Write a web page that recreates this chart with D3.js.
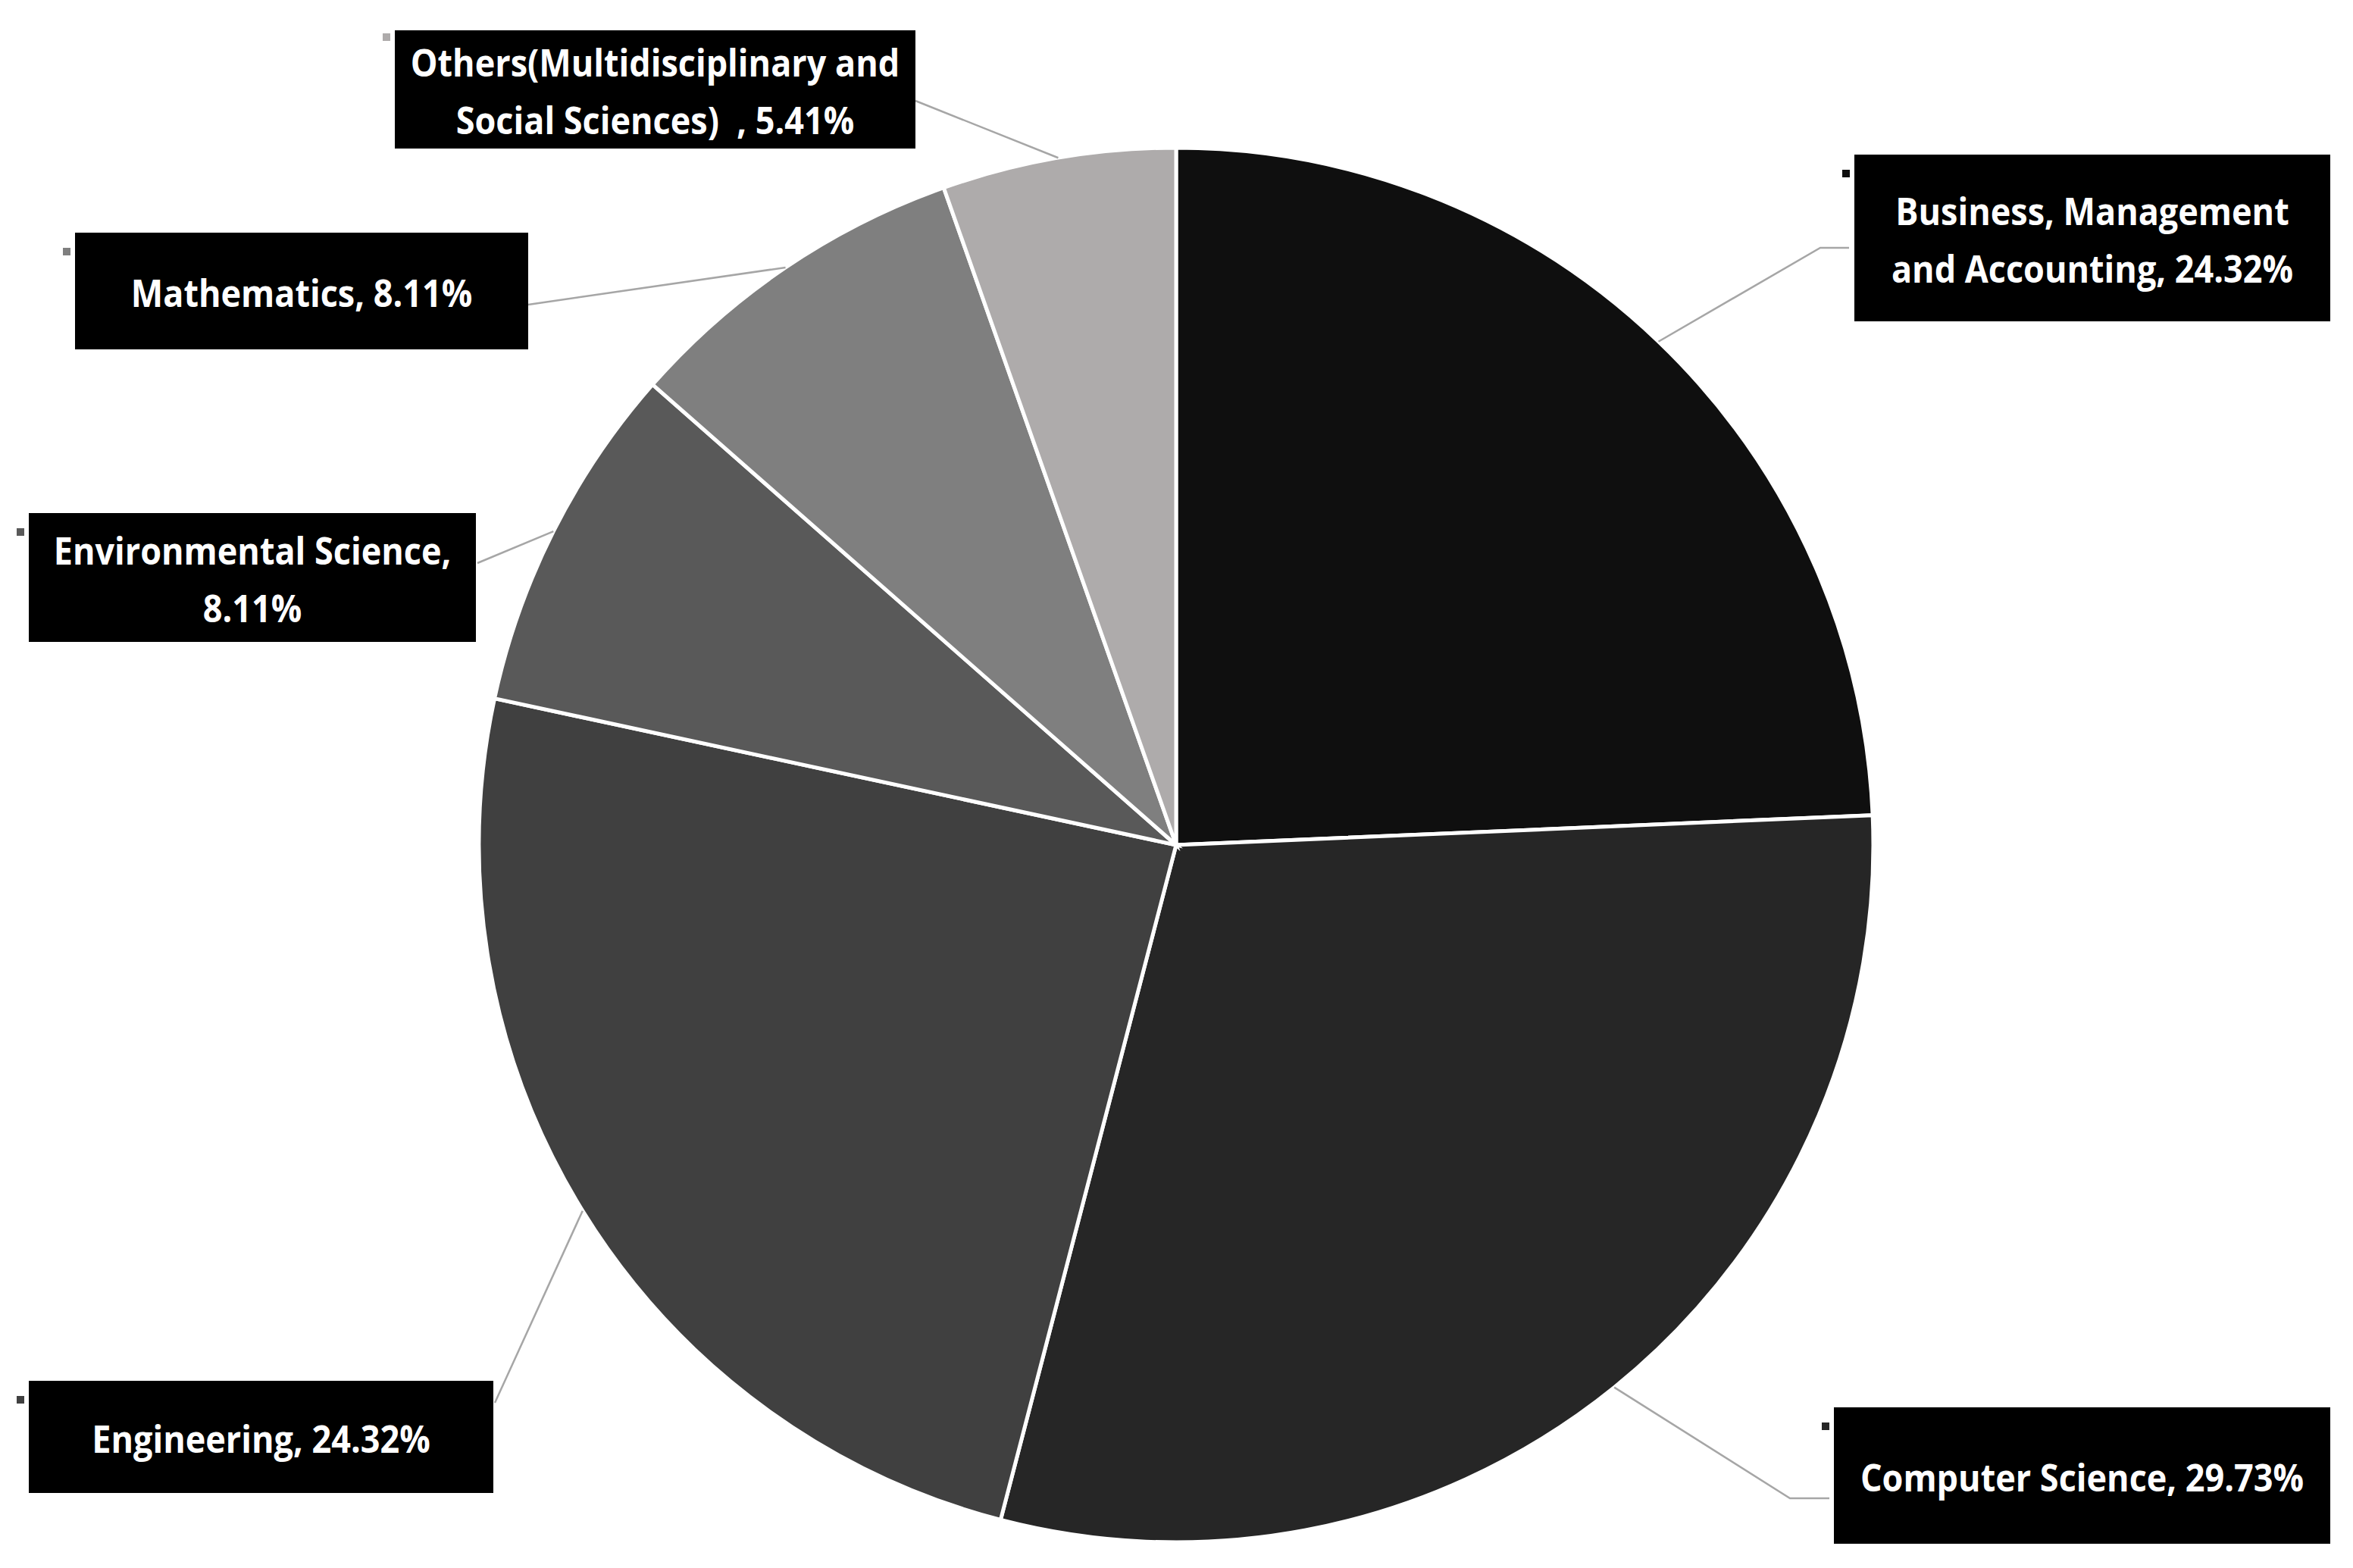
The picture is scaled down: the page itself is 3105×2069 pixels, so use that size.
<!DOCTYPE html>
<html>
<head>
<meta charset="utf-8">
<script src="https://cdn.jsdelivr.net/npm/d3@7"></script>
<style>
  body { margin: 0; background: #fff; }
  svg text { font-family: "Open Sans", "Noto Sans", sans-serif; font-weight: 700; }
</style>
</head>
<body>
<svg id="chart" width="3105" height="2069"></svg>
<script>
// data, clockwise from 12 o'clock
var categories = ["Business, Management and Accounting", "Computer Science", "Engineering",
                  "Environmental Science", "Mathematics", "Others(Multidisciplinary and Social Sciences)"];
var shares = [24.32, 29.73, 24.32, 8.11, 8.11, 5.41];
var labelLines = [
  ["Business, Management", "and Accounting, 24.32%"],
  ["Computer Science, 29.73%"],
  ["Engineering, 24.32%"],
  ["Environmental Science,", "8.11%"],
  ["Mathematics, 8.11%"],
  ["Others(Multidisciplinary and", "Social Sciences)\u00a0 , 5.41%"]
];
var colors = ["#0f0f0f", "#262626", "#404040", "#595959", "#7f7f7f", "#aeabab"];

// label placement (boxes were dragged by hand in the original)
var boxes = [
  {x: 2447, y: 204, w: 628, h: 220, end: [[2402, 327], [2440, 327]]},
  {x: 2420, y: 1857, w: 655, h: 180, end: [[2362, 1977], [2414, 1977]]},
  {x: 38, y: 1822, w: 613, h: 148, end: [[653, 1851]]},
  {x: 38, y: 677, w: 590, h: 170, end: [[630, 743]]},
  {x: 99, y: 307, w: 598, h: 154, end: [[697, 402]]},
  {x: 521, y: 40, w: 687, h: 156, end: [[1208, 133]], keyDy: 4}
];

var svg = d3.select("#chart"),
    cx = 1552, cy = 1115, radius = 920;

var data = categories.map((c, i) => ({name: c, value: shares[i], lines: labelLines[i], box: boxes[i], color: colors[i]}));

var pie = d3.pie().sort(null).value(d => d.value);
var arc = d3.arc().innerRadius(0).outerRadius(radius);
var arcs = pie(data);

var g = svg.append("g").attr("transform", "translate(" + cx + "," + cy + ")");

// leader lines first so slices/boxes sit above them
var lineGen = d3.line();
svg.append("g")
  .selectAll("path")
  .data(arcs).enter()
  .append("path")
    .attr("fill", "none")
    .attr("stroke", "#a6a6a6")
    .attr("stroke-width", 2.5)
    .attr("d", d => {
      var a = (d.startAngle + d.endAngle) / 2;
      var p0 = [cx + radius * Math.sin(a), cy - radius * Math.cos(a)];
      return lineGen([p0].concat(d.data.box.end));
    });

g.selectAll("path.slice")
  .data(arcs).enter()
  .append("path")
    .attr("class", "slice")
    .attr("d", arc)
    .attr("fill", d => d.data.color)
    .attr("stroke", "#fff")
    .attr("stroke-width", 5);

var labels = svg.append("g")
  .selectAll("g")
  .data(data).enter()
  .append("g");

labels.append("rect")
  .attr("x", d => d.box.x)
  .attr("y", d => d.box.y)
  .attr("width", d => d.box.w)
  .attr("height", d => d.box.h)
  .attr("fill", "#000");

// small legend key in front of each label
labels.append("rect")
  .attr("x", d => d.box.x - 16)
  .attr("y", d => d.box.y + (d.box.keyDy || 20))
  .attr("width", 10)
  .attr("height", 10)
  .attr("fill", d => d.color);

var lineH = 76;
labels.each(function(d) {
  var sel = d3.select(this);
  var n = d.lines.length;
  var midY = d.box.y + d.box.h / 2;
  d.lines.forEach((t, i) => {
    var tx = d.box.x + d.box.w / 2,
        ty = midY + (i - (n - 1) / 2) * lineH + 3;
    sel.append("text")
      .attr("transform", "translate(" + tx + "," + ty + ") scale(0.9,1)")
      .attr("dy", "0.35em")
      .attr("text-anchor", "middle")
      .attr("fill", "#fff")
      .style("font-size", "50px")
      .text(t);
  });
});
</script>
</body>
</html>
